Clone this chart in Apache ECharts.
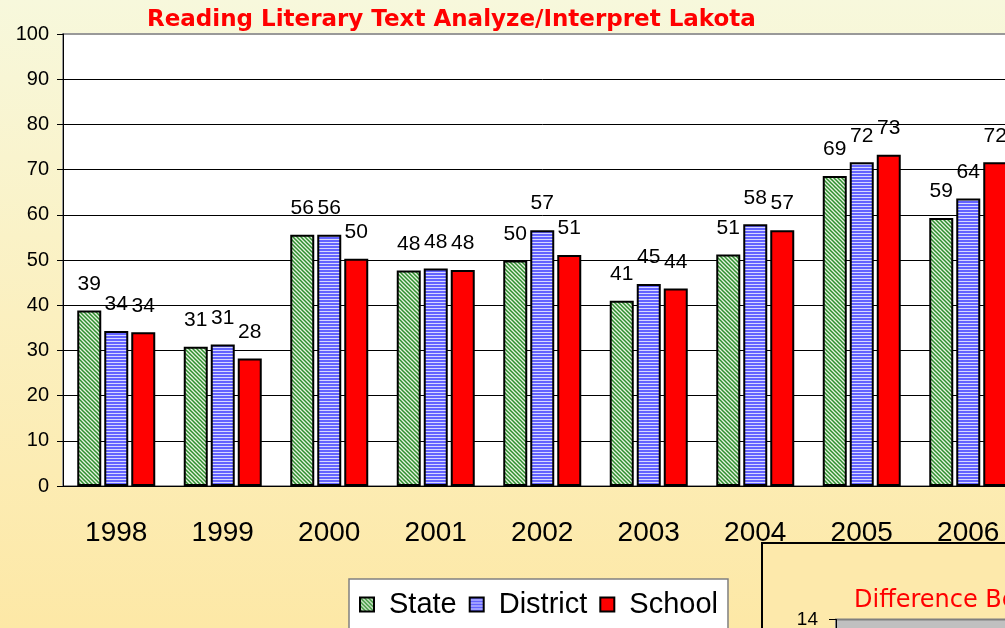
<!DOCTYPE html>
<html>
<head>
<meta charset="utf-8">
<script src="https://cdn.jsdelivr.net/npm/echarts@6/dist/echarts.min.js"></script>
<style>
  html, body { margin: 0; padding: 0; overflow: hidden; width: 1005px; height: 628px; }
  body { background: linear-gradient(to bottom, #f7f8dc 0%, #fbf0c0 50%, #fde8a6 100%); position: relative; }
  #main { position: absolute; left: 0; top: 0; width: 1040px; height: 628px; }
  #diff { position: absolute; left: 761px; top: 542px; width: 420px; height: 220px;
          border-left: 2px solid #000; border-top: 2px solid #000; background: #fde9ab; }
</style>
</head>
<body>
<div id="main"></div>
<div id="diff"></div>
<script>
const $ = (id) => document.getElementById(id);

const years = ["1998", "1999", "2000", "2001", "2002", "2003", "2004", "2005", "2006"];
const state = [38.8, 30.8, 55.6, 47.7, 49.9, 41.0, 51.2, 68.6, 59.3];
const district = [34.3, 31.3, 55.6, 48.1, 56.6, 44.7, 57.9, 71.6, 63.6];
const school = [34.0, 28.2, 50.3, 47.8, 51.1, 43.7, 56.6, 73.3, 71.6];
const yTicks = { min: 0, max: 100, interval: 10 };
const diffTicks = { min: 0, max: 14, interval: 2 };

const font = "Liberation Sans, Arial, sans-serif";

function hatch() {
  const c = document.createElement("canvas");
  c.width = 4; c.height = 4;
  const g = c.getContext("2d");
  g.fillStyle = "#e6f3e0";
  g.fillRect(0, 0, 4, 4);
  g.strokeStyle = "#2f8f2f";
  g.lineWidth = 1.5;
  g.beginPath();
  g.moveTo(-1, -1); g.lineTo(5, 5);
  g.moveTo(-1, 3); g.lineTo(1, 5);
  g.moveTo(3, -1); g.lineTo(5, 1);
  g.stroke();
  return { image: c, repeat: "repeat" };
}

function stripes() {
  const c = document.createElement("canvas");
  c.width = 2; c.height = 3;
  const g = c.getContext("2d");
  g.fillStyle = "#6464ff";
  g.fillRect(0, 0, 2, 2);
  g.fillStyle = "#d8d8ff";
  g.fillRect(0, 2, 2, 1);
  return { image: c, repeat: "repeat" };
}

function barSeries(name, data, color) {
  return {
    name,
    type: "bar",
    data,
    barWidth: 24,
    barGap: "12.5%",
    itemStyle: { color, borderColor: "#000", borderWidth: 2 },
    label: {
      show: true,
      position: "top",
      distance: 16,
      color: "#000",
      fontFamily: font,
      fontSize: 21,
      formatter: (p) => Math.round(p.value)
    }
  };
}

// top grid line is the grey plot border
const gridColors = years.concat(["", ""]).map((_, i) => (i === 10 ? "#999" : "#000"));

const main = echarts.init($("main"));
main.setOption({
  animation: false,
  title: {
    text: "Reading Literary Text Analyze/Interpret Lakota",
    left: 142,
    top: 4,
    textStyle: { color: "#ff0000", fontFamily: "Comic Sans MS, DejaVu Sans, sans-serif", fontWeight: "bold", fontSize: 23 }
  },
  grid: { left: 63, right: 18.5, top: 34, bottom: 142, show: true, backgroundColor: "#fff", borderColor: "#999", borderWidth: 2 },
  legend: {
    data: ["State", "District", "School"],
    left: 349,
    top: 579,
    icon: "rect",
    itemWidth: 14,
    itemHeight: 14,
    itemGap: 12,
    padding: [11, 10, 40, 10],
    backgroundColor: "#fff",
    borderColor: "#808080",
    borderWidth: 1.5,
    textStyle: { fontFamily: font, fontSize: 29, color: "#000", padding: [0, 0, 0, 10] }
  },
  xAxis: {
    type: "category",
    data: years,
    axisLine: { lineStyle: { color: "#000", width: 1 } },
    axisTick: { length: 9, lineStyle: { color: "#000" } },
    axisLabel: { color: "#000", fontFamily: font, fontSize: 28, margin: 33 }
  },
  yAxis: {
    type: "value",
    min: yTicks.min,
    max: yTicks.max,
    interval: yTicks.interval,
    axisLine: { show: true, lineStyle: { color: "#000", width: 1 } },
    axisTick: { show: true, length: 6, lineStyle: { color: "#000" } },
    axisLabel: { color: "#000", fontFamily: font, fontSize: 20, margin: 14 },
    splitLine: { lineStyle: { color: gridColors, width: 1 } }
  },
  series: [
    barSeries("State", state, hatch()),
    barSeries("District", district, stripes()),
    barSeries("School", school, "#ff0000")
  ]
});

const diff = echarts.init($("diff"));
diff.setOption({
  animation: false,
  title: {
    text: "Difference Between School and State",
    left: 86,
    top: 40,
    textStyle: { color: "#ff0000", fontFamily: "Comic Sans MS, DejaVu Sans, sans-serif", fontWeight: "normal", fontSize: 24 }
  },
  grid: { left: 73, top: 75.5, right: 10, bottom: 10, show: true, backgroundColor: "#c0c0c0", borderColor: "#808080", borderWidth: 2 },
  xAxis: { type: "category", data: years, axisLabel: { show: false }, axisTick: { show: false } },
  yAxis: {
    type: "value",
    min: diffTicks.min,
    max: diffTicks.max,
    interval: diffTicks.interval,
    axisLine: { show: true, lineStyle: { color: "#000" } },
    axisTick: { show: true, length: 7, lineStyle: { color: "#000" } },
    axisLabel: { color: "#000", fontFamily: font, fontSize: 19, margin: 18 },
    splitLine: { show: false }
  },
  series: []
});

window.addEventListener("resize", () => {
  main.resize();
  diff.resize();
});
</script>
</body>
</html>
